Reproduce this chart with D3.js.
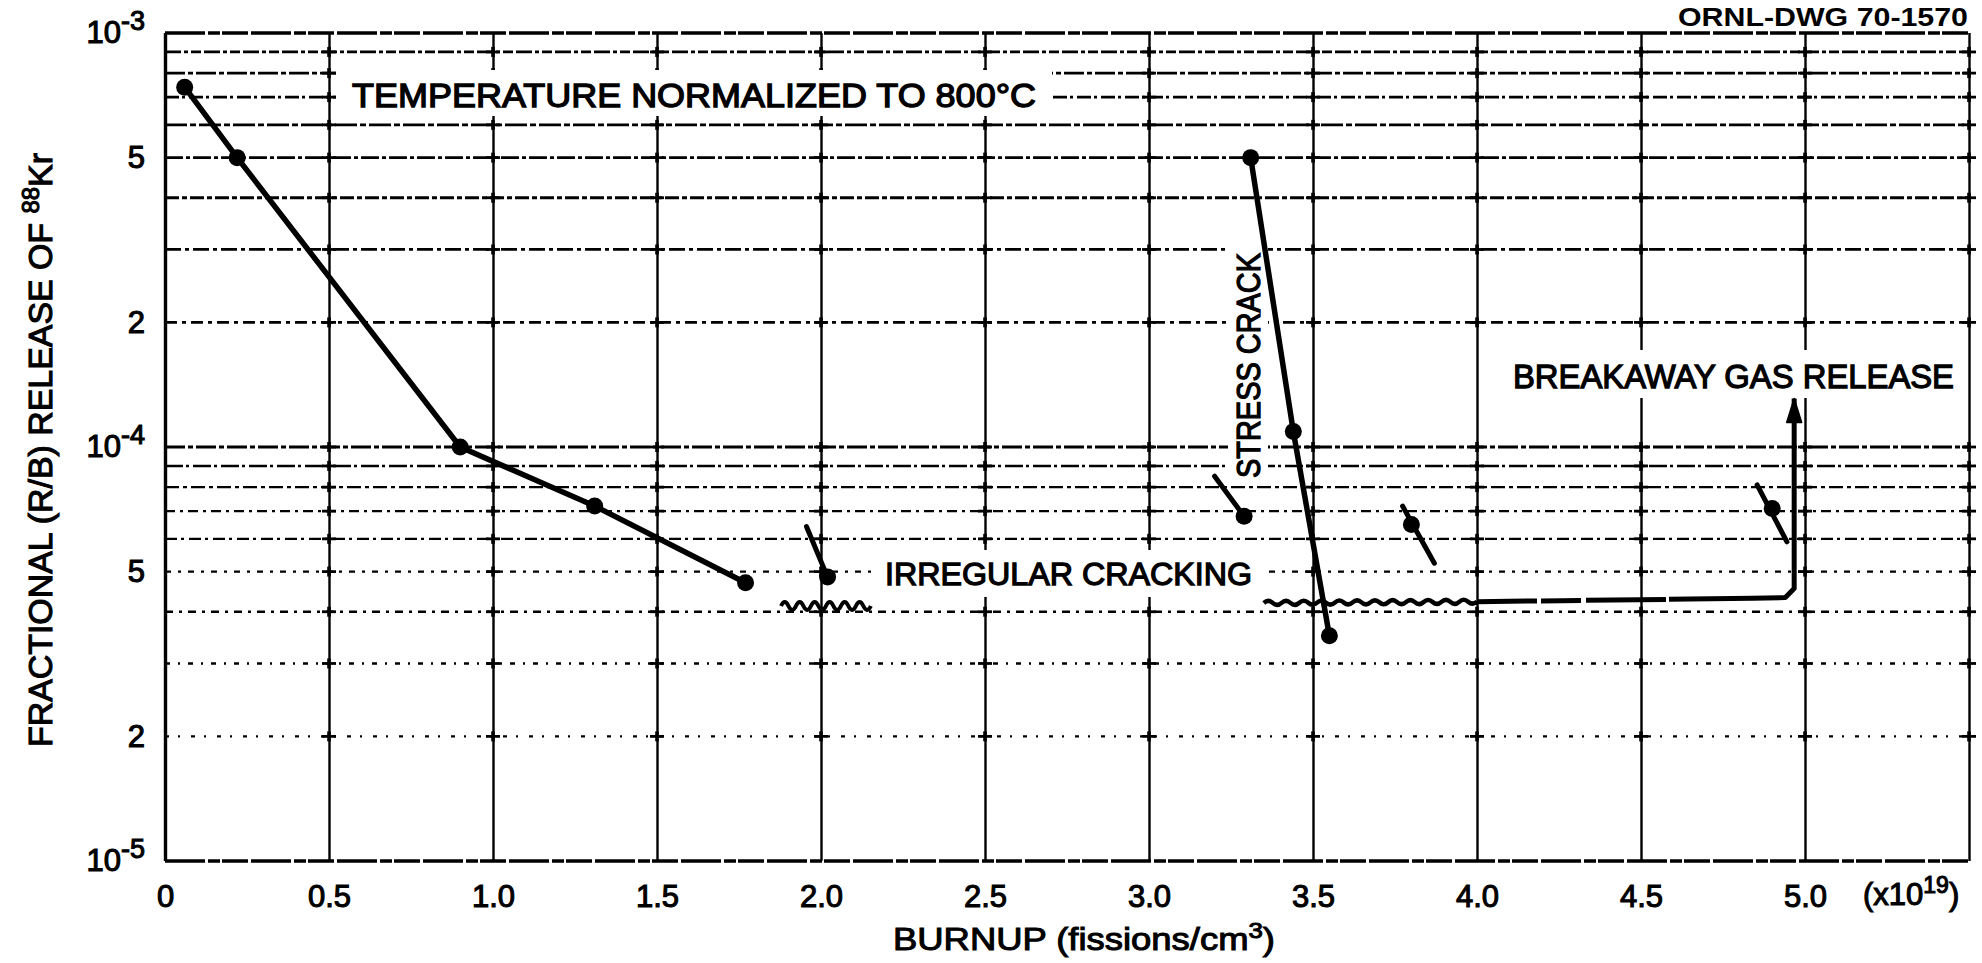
<!DOCTYPE html>
<html>
<head>
<meta charset="utf-8">
<script src="https://cdn.jsdelivr.net/npm/d3@7"></script>
<style>
  html, body { margin: 0; padding: 0; background: #fff; }
  svg { display: block; }
  text { font-family: "Liberation Sans", Arial, sans-serif; fill: #000; }
</style>
</head>
<body>
<svg id="chart" width="1982" height="963"></svg>
<script>
// Burnup in units of 10^19 fissions/cm3, release as fractional R/B of 88Kr
const mainBurnup  = [0.06, 0.22, 0.90, 1.31, 1.77];
const mainRelease = [7.4e-4, 5.0e-4, 1.0e-4, 7.2e-5, 4.7e-5];

const crackBurnup  = [3.31, 3.44, 3.55];
const crackRelease = [5.0e-4, 1.09e-4, 3.5e-5];

// isolated measurements, each with a short trend stroke
const flagBurnup      = [2.02, 3.29, 3.80, 4.90];
const flagRelease     = [4.85e-5, 6.8e-5, 6.5e-5, 7.1e-5];
const flagFromBurnup  = [1.956, 3.20, 3.773, 4.854];
const flagFromRelease = [6.42e-5, 8.5e-5, 7.2e-5, 8.1e-5];
const flagToBurnup    = [2.02, 3.29, 3.870, 4.945];
const flagToRelease   = [4.85e-5, 6.8e-5, 5.24e-5, 5.9e-5];

// cracking markers
const irregularBurnup  = [1.878, 2.152];
const irregularRelease = [4.13e-5, 4.13e-5];
const breakawayWavyBurnup  = [3.35, 4.00];
const breakawayWavyRelease = [4.2e-5, 4.23e-5];
const breakawayBurnup  = [4.00, 4.84, 4.94, 4.967, 4.967];
const breakawayRelease = [4.23e-5, 4.31e-5, 4.33e-5, 4.55e-5, 1.31e-4];

const xTickValues = [0, 0.5, 1.0, 1.5, 2.0, 2.5, 3.0, 3.5, 4.0, 4.5, 5.0];
const xTickLabels = ["0", "0.5", "1.0", "1.5", "2.0", "2.5", "3.0", "3.5", "4.0", "4.5", "5.0"];
const yGridValues = [2e-5, 3e-5, 4e-5, 5e-5, 6e-5, 7e-5, 8e-5, 9e-5,
                     1e-4, 2e-4, 3e-4, 4e-4, 5e-4, 6e-4, 7e-4, 8e-4, 9e-4];
const yTickValues = [1e-5, 2e-5, 5e-5, 1e-4, 2e-4, 5e-4, 1e-3];
const yTickLabels = [["10", "-5"], ["2"], ["5"], ["10", "-4"], ["2"], ["5"], ["10", "-3"]];

const svg = d3.select("#chart");
const plotLeft = 165, plotRight = 1969, plotTop = 33, plotBottom = 861;

const x = d3.scaleLinear().domain([0, 5.5]).range([plotLeft, plotRight]);
const y = d3.scaleLog().domain([1e-5, 1e-3]).range([plotBottom, plotTop]);

// ---- grid ----
const grid = svg.append("g");

const dashFor = v => {
  const m = {
    "9e-4": "16,3,4,3,10,3", "8e-4": "20,3,5,3", "7e-4": "14,3,3,4", "6e-4": "22,3,6,3",
    "5e-4": "18,3,4,3", "4e-4": "14,3,5,3", "3e-4": "16,4,4,4", "2e-4": "12,5,4,5",
    "1e-4": "20,3,5,3", "9e-5": "18,3,3,4", "8e-5": "14,4,4,4", "7e-5": "10,5,3,5",
    "6e-5": "12,4,3,5", "5e-5": "6,7,3,7", "4e-5": "8,6,3,6", "3e-5": "5,8,2,8", "2e-5": "4,9,2,11"
  };
  return m[v.toExponential(0)] || "10,4";
};

grid.selectAll("line.h").data(yGridValues).join("line")
  .attr("class", "h")
  .attr("x1", plotLeft).attr("x2", plotRight)
  .attr("y1", d => y(d)).attr("y2", d => y(d))
  .attr("stroke", "#000")
  .attr("stroke-width", d => d >= 1e-4 ? 2.8 : 2.4)
  .attr("stroke-dasharray", d => dashFor(d));

// top and bottom frame (dense dashes)
grid.selectAll("line.frame").data([1e-3, 1e-5]).join("line")
  .attr("class", "frame")
  .attr("x1", plotLeft).attr("x2", plotRight)
  .attr("y1", d => y(d)).attr("y2", d => y(d))
  .attr("stroke", "#000").attr("stroke-width", 3.4)
  .attr("stroke-dasharray", "40,3,12,2,26,3");

// vertical lines via axis ticks
const vAxis = grid.append("g")
  .attr("transform", `translate(0,${plotBottom})`)
  .call(d3.axisBottom(x).tickValues(xTickValues.concat([5.5])).tickSize(-(plotBottom - plotTop)).tickFormat(""));
vAxis.select(".domain").remove();
vAxis.selectAll(".tick line").attr("stroke", "#000").attr("stroke-width", d => (d === 0 ? 3.4 : 2.4));

// crosses at intersections
const crossX = xTickValues.slice(1).concat([5.5]);
const crosses = [];
yGridValues.forEach(v => crossX.forEach(u => crosses.push([u, v])));
grid.selectAll("line.cross").data(crosses).join("line")
  .attr("class", "cross")
  .attr("x1", d => x(d[0]) - 7).attr("x2", d => x(d[0]) + 7)
  .attr("y1", d => y(d[1])).attr("y2", d => y(d[1]))
  .attr("stroke", "#000").attr("stroke-width", 2.8);
grid.selectAll("line.crossv").data(crosses).join("line")
  .attr("class", "crossv")
  .attr("x1", d => x(d[0])).attr("x2", d => x(d[0]))
  .attr("y1", d => y(d[1]) - 5).attr("y2", d => y(d[1]) + 5)
  .attr("stroke", "#000").attr("stroke-width", 3.6);

// ---- label backgrounds ----
const boxes = [
  [336, 70, 716, 46],
  [872, 550, 393, 47],
  [1228, 245, 40, 237],
  [1505, 350, 457, 48]
];
svg.append("g").selectAll("rect").data(boxes).join("rect")
  .attr("x", d => d[0]).attr("y", d => d[1])
  .attr("width", d => d[2]).attr("height", d => d[3])
  .attr("fill", "#fff");

// ---- axes labels ----
const xAxis = svg.append("g")
  .attr("transform", `translate(0,${plotBottom})`)
  .call(d3.axisBottom(x).tickValues(xTickValues)
        .tickFormat((d, i) => xTickLabels[i]).tickSize(0).tickPadding(24));
xAxis.select(".domain").remove();
xAxis.selectAll("text").attr("font-size", 31).attr("font-family", "Liberation Sans, Arial, sans-serif")
  .attr("fill", "#000").attr("stroke", "#000").attr("stroke-width", 1.1);

const yAxis = svg.append("g")
  .attr("transform", `translate(${plotLeft},0)`)
  .call(d3.axisLeft(y).tickValues(yTickValues).tickFormat("").tickSize(0).tickPadding(20));
yAxis.select(".domain").remove();
yAxis.selectAll("text")
  .attr("font-size", 31).attr("font-family", "Liberation Sans, Arial, sans-serif")
  .attr("fill", "#000").attr("stroke", "#000").attr("stroke-width", 1.1)
  .each(function(d) {
    const parts = yTickLabels[yTickValues.indexOf(d)];
    const t = d3.select(this);
    t.append("tspan").text(parts[0]);
    if (parts.length > 1) {
      t.append("tspan").attr("dy", -13).attr("font-size", 27).text(parts[1]);
    }
  });

// multiplier
const mult = svg.append("text")
  .attr("x", 1863).attr("y", 905)
  .attr("font-size", 31).attr("stroke", "#000").attr("stroke-width", 1.1);
mult.append("tspan").text("(x10");
mult.append("tspan").attr("dy", -12).attr("font-size", 23).text("19");
mult.append("tspan").attr("dy", 12).text(")");

// x title
const xt = svg.append("text")
  .attr("x", 893).attr("y", 950)
  .attr("font-size", 31).attr("stroke", "#000").attr("stroke-width", 1.0)
  .attr("textLength", 382).attr("lengthAdjust", "spacingAndGlyphs");
xt.append("tspan").text("BURNUP (fissions/cm");
xt.append("tspan").attr("dy", -12).attr("font-size", 22).text("3");
xt.append("tspan").attr("dy", 12).text(")");

// y title
const yt = svg.append("text")
  .attr("transform", "translate(52,450) rotate(-90)")
  .attr("text-anchor", "middle")
  .attr("font-size", 34).attr("stroke", "#000").attr("stroke-width", 1.1)
  .attr("textLength", 594).attr("lengthAdjust", "spacingAndGlyphs");
yt.append("tspan").text("FRACTIONAL (R/B) RELEASE OF ");
yt.append("tspan").attr("dy", -13).attr("font-size", 24).text("88");
yt.append("tspan").attr("dy", 13).text("Kr");

// drawing number
svg.append("text")
  .attr("x", 1678).attr("y", 26)
  .attr("font-size", 26).attr("font-weight", "bold")
  .attr("textLength", 290).attr("lengthAdjust", "spacingAndGlyphs")
  .text("ORNL-DWG 70-1570");

// annotations
const note = (txt, xx, yy, len, size) => svg.append("text")
  .attr("x", xx).attr("y", yy).attr("font-size", size)
  .attr("stroke", "#000").attr("stroke-width", 1.3)
  .attr("textLength", len).attr("lengthAdjust", "spacingAndGlyphs")
  .text(txt);
note("TEMPERATURE NORMALIZED TO 800\u00B0C", 352, 107, 684, 33);
note("IRREGULAR CRACKING", 885, 585, 367, 32);
note("BREAKAWAY GAS RELEASE", 1513, 388, 441, 34);
svg.append("text")
  .attr("transform", "translate(1260,478) rotate(-90)")
  .attr("font-size", 34).attr("stroke", "#000").attr("stroke-width", 1.3)
  .attr("textLength", 225).attr("lengthAdjust", "spacingAndGlyphs")
  .text("STRESS CRACK");

// ---- data ----
const data = svg.append("g");
const line = d3.line().x(d => x(d[0])).y(d => y(d[1]));

const mainPts = d3.zip(mainBurnup, mainRelease);
const crackPts = d3.zip(crackBurnup, crackRelease);

data.append("path").attr("d", line(mainPts))
  .attr("fill", "none").attr("stroke", "#000").attr("stroke-width", 5.5)
  .attr("stroke-linejoin", "round").attr("stroke-linecap", "round");
data.append("path").attr("d", line(crackPts))
  .attr("fill", "none").attr("stroke", "#000").attr("stroke-width", 5.5)
  .attr("stroke-linejoin", "round").attr("stroke-linecap", "round");

const flagSegs = flagBurnup.map((_, i) => [[flagFromBurnup[i], flagFromRelease[i]], [flagToBurnup[i], flagToRelease[i]]]);
data.selectAll("path.flag").data(flagSegs).join("path")
  .attr("class", "flag").attr("d", d => line(d))
  .attr("fill", "none").attr("stroke", "#000").attr("stroke-width", 5)
  .attr("stroke-linecap", "round");

const allPts = mainPts.concat(crackPts, d3.zip(flagBurnup, flagRelease));
data.selectAll("circle").data(allPts).join("circle")
  .attr("cx", d => x(d[0])).attr("cy", d => y(d[1])).attr("r", 8.5)
  .attr("fill", "#000");

// squiggle between two points (quadratic half-waves)
function squiggle(p0, p1, half = 7.5, amp = 4) {
  const x0 = x(p0[0]), y0 = y(p0[1]), x1 = x(p1[0]), y1 = y(p1[1]);
  const len = Math.hypot(x1 - x0, y1 - y0);
  const n = Math.max(1, Math.round(len / half));
  const ux = (x1 - x0) / n, uy = (y1 - y0) / n;
  let d = `M${x0},${y0}`;
  for (let i = 0; i < n; i++) {
    const sx = x0 + ux * i, sy = y0 + uy * i;
    const s = i % 2 ? 1 : -1;
    d += `Q${sx + ux / 2},${sy + uy / 2 + s * amp * 2} ${sx + ux},${sy + uy}`;
  }
  return d;
}
data.append("path")
  .attr("d", squiggle([irregularBurnup[0], irregularRelease[0]], [irregularBurnup[1], irregularRelease[1]]))
  .attr("fill", "none").attr("stroke", "#000").attr("stroke-width", 4);
data.append("path")
  .attr("d", squiggle([breakawayWavyBurnup[0], breakawayWavyRelease[0]], [breakawayWavyBurnup[1], breakawayWavyRelease[1]], 9, 2))
  .attr("fill", "none").attr("stroke", "#000").attr("stroke-width", 4.5);
data.append("path")
  .attr("d", line(d3.zip(breakawayBurnup, breakawayRelease)))
  .attr("fill", "none").attr("stroke", "#000").attr("stroke-width", 5)
  .attr("stroke-dasharray", "60,4,40,5,80,3,900")
  .attr("stroke-linejoin", "round");

// arrow head
const tipX = x(breakawayBurnup[breakawayBurnup.length - 1]);
const tipY = y(breakawayRelease[breakawayRelease.length - 1]);
data.append("path")
  .attr("d", `M${tipX},${tipY} L${tipX + 7.5},${tipY + 24} L${tipX - 7.5},${tipY + 24} Z`)
  .attr("fill", "#000").attr("stroke", "#000").attr("stroke-width", 1.5).attr("stroke-linejoin", "round");
</script>
</body>
</html>
